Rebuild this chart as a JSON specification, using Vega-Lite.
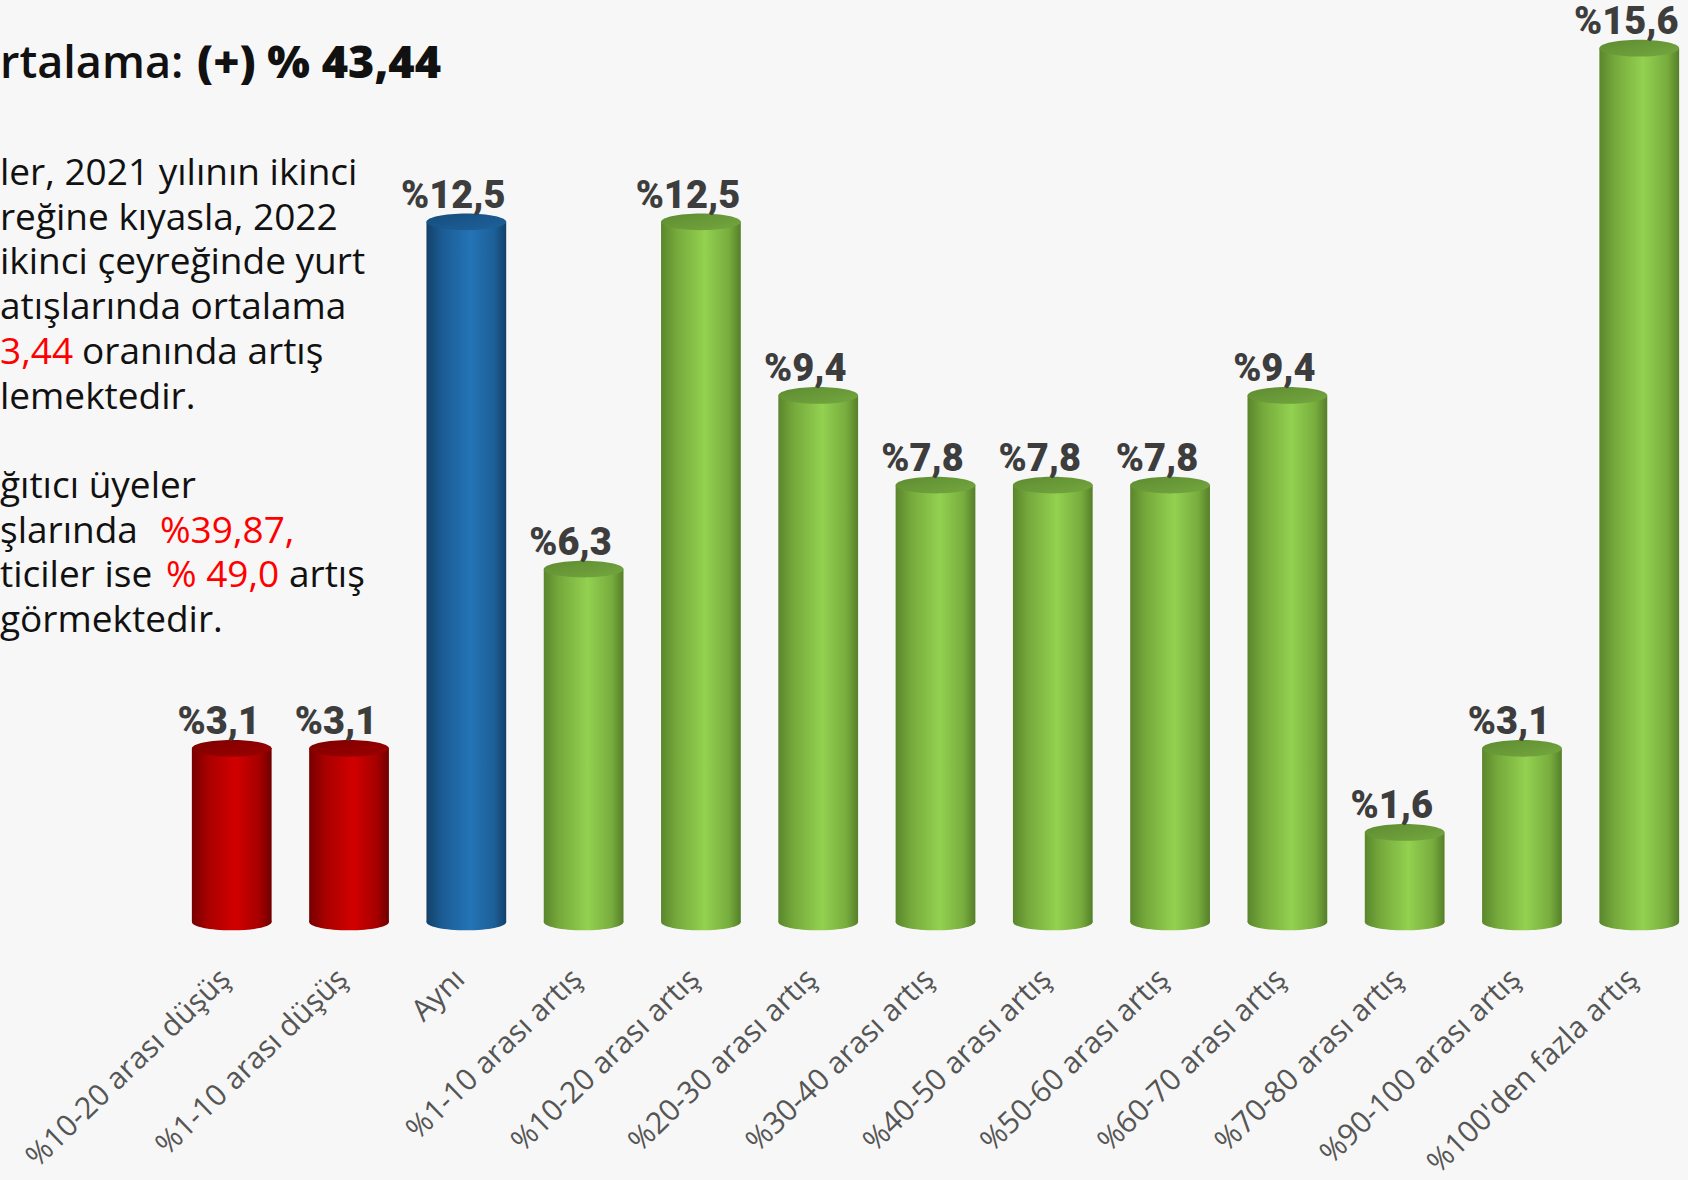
{
  "$schema": "https://vega.github.io/schema/vega-lite/v6.json",
  "autosize": "none",
  "width": 1499,
  "height": 922,
  "padding": {"left": 186, "top": 0, "right": 3, "bottom": 258},
  "background": "#f7f7f7",
  "config": {"view": {"stroke": null}},
  "layer": [
    {
      "data": {
        "values": [
          {"cat": "%10-20 arası düşüş", "v": 3.1, "g": "r"},
          {"cat": "%1-10 arası düşüş", "v": 3.1, "g": "r"},
          {"cat": "Aynı", "v": 12.5, "g": "b"},
          {"cat": "%1-10 arası artış", "v": 6.3, "g": "g"},
          {"cat": "%10-20 arası artış", "v": 12.5, "g": "g"},
          {"cat": "%20-30 arası artış", "v": 9.4, "g": "g"},
          {"cat": "%30-40 arası artış", "v": 7.8, "g": "g"},
          {"cat": "%40-50 arası artış", "v": 7.8, "g": "g"},
          {"cat": "%50-60 arası artış", "v": 7.8, "g": "g"},
          {"cat": "%60-70 arası artış", "v": 9.4, "g": "g"},
          {"cat": "%70-80 arası artış", "v": 1.6, "g": "g"},
          {"cat": "%90-100 arası artış", "v": 3.1, "g": "g"},
          {"cat": "%100'den fazla artış", "v": 15.6, "g": "g"}
        ]
      },
      "transform": [
        {"calculate": "'%' + replace(format(datum.v, '.1f'), '.', ',')", "as": "lbl"}
      ],
      "encoding": {
        "x": {
          "field": "cat",
          "type": "nominal",
          "sort": null,
          "scale": {"paddingInner": 0.32, "paddingOuter": 0.05},
          "axis": {
            "title": null,
            "domain": false,
            "ticks": false,
            "labelAngle": -44,
            "labelAlign": "right",
            "labelBaseline": "middle",
            "labelPadding": 52,
            "labelOffset": -6,
            "labelFontSize": 30,
            "labelFont": "Open Sans",
            "labelColor": "#555555",
            "labelLimit": 600,
            "labelOverlap": false
          }
        }
      },
      "layer": [
        {
          "mark": {
            "type": "point",
            "shape": "M -1 0 C -1 -0.116 -0.552 -0.21 0 -0.21 C 0.552 -0.21 1 -0.116 1 0 C 1 0.116 0.552 0.21 0 0.21 C -0.552 0.21 -1 0.116 -1 0 Z",
            "size": 6360,
            "filled": true,
            "opacity": 1,
            "strokeWidth": 0
          },
          "encoding": {
            "y": {"datum": 0, "type": "quantitative", "scale": {"domain": [0, 16.46]}, "axis": null},
            "color": {
              "condition": [
                {"test": "datum.g === 'r'", "value": {"gradient": "linear", "x1": 0, "x2": 1, "y1": 0, "y2": 0, "stops": [{"offset": 0, "color": "#760000"}, {"offset": 0.2, "color": "#a80000"}, {"offset": 0.55, "color": "#d20000"}, {"offset": 0.85, "color": "#a50000"}, {"offset": 1, "color": "#6e0000"}]}},
                {"test": "datum.g === 'b'", "value": {"gradient": "linear", "x1": 0, "x2": 1, "y1": 0, "y2": 0, "stops": [{"offset": 0, "color": "#13416a"}, {"offset": 0.2, "color": "#1b5c94"}, {"offset": 0.55, "color": "#2474b6"}, {"offset": 0.85, "color": "#1d5f98"}, {"offset": 1, "color": "#134069"}]}}
              ],
              "value": {"gradient": "linear", "x1": 0, "x2": 1, "y1": 0, "y2": 0, "stops": [{"offset": 0, "color": "#5a862c"}, {"offset": 0.2, "color": "#76aa3c"}, {"offset": 0.55, "color": "#93d150"}, {"offset": 0.85, "color": "#78ad3e"}, {"offset": 1, "color": "#557f29"}]}
            }
          }
        },
        {
          "mark": {"type": "bar", "strokeWidth": 0},
          "encoding": {
            "y": {"field": "v", "type": "quantitative", "scale": {"domain": [0, 16.46]}, "axis": null},
            "y2": {"datum": 0},
            "color": {
              "condition": [
                {"test": "datum.g === 'r'", "value": {"gradient": "linear", "x1": 0, "x2": 1, "y1": 0, "y2": 0, "stops": [{"offset": 0, "color": "#760000"}, {"offset": 0.2, "color": "#a80000"}, {"offset": 0.55, "color": "#d20000"}, {"offset": 0.85, "color": "#a50000"}, {"offset": 1, "color": "#6e0000"}]}},
                {"test": "datum.g === 'b'", "value": {"gradient": "linear", "x1": 0, "x2": 1, "y1": 0, "y2": 0, "stops": [{"offset": 0, "color": "#13416a"}, {"offset": 0.2, "color": "#1b5c94"}, {"offset": 0.55, "color": "#2474b6"}, {"offset": 0.85, "color": "#1d5f98"}, {"offset": 1, "color": "#134069"}]}}
              ],
              "value": {"gradient": "linear", "x1": 0, "x2": 1, "y1": 0, "y2": 0, "stops": [{"offset": 0, "color": "#5a862c"}, {"offset": 0.2, "color": "#76aa3c"}, {"offset": 0.55, "color": "#93d150"}, {"offset": 0.85, "color": "#78ad3e"}, {"offset": 1, "color": "#557f29"}]}
            }
          }
        },
        {
          "mark": {
            "type": "point",
            "shape": "M -1 0 C -1 -0.116 -0.552 -0.21 0 -0.21 C 0.552 -0.21 1 -0.116 1 0 C 1 0.116 0.552 0.21 0 0.21 C -0.552 0.21 -1 0.116 -1 0 Z",
            "size": 6360,
            "filled": true,
            "opacity": 1,
            "strokeWidth": 0
          },
          "encoding": {
            "y": {"field": "v", "type": "quantitative", "scale": {"domain": [0, 16.46]}, "axis": null},
            "color": {
              "condition": [
                {"test": "datum.g === 'r'", "value": {"gradient": "linear", "x1": 0, "x2": 1, "y1": 0, "y2": 1, "stops": [{"offset": 0, "color": "#7e0000"}, {"offset": 1, "color": "#9c0000"}]}},
                {"test": "datum.g === 'b'", "value": {"gradient": "linear", "x1": 0, "x2": 1, "y1": 0, "y2": 1, "stops": [{"offset": 0, "color": "#164c7c"}, {"offset": 1, "color": "#1e629c"}]}}
              ],
              "value": {"gradient": "linear", "x1": 0, "x2": 1, "y1": 0, "y2": 1, "stops": [{"offset": 0, "color": "#5e8c31"}, {"offset": 1, "color": "#74a73f"}]}
            }
          }
        },
        {
          "mark": {"type": "text", "baseline": "alphabetic", "dy": -14, "dx": -13, "font": "Roboto", "fontWeight": 900, "fontSize": 38, "color": "#3d3d3d"},
          "encoding": {
            "y": {"field": "v", "type": "quantitative", "scale": {"domain": [0, 16.46]}, "axis": null},
            "text": {"field": "lbl"}
          }
        }
      ]
    },
    {
      "data": {
        "values": [
          {"line": 1, "s": "a", "t": "ler, 2021 yılının ikinci"},
          {"line": 2, "s": "a", "t": "reğine kıyasla, 2022"},
          {"line": 3, "s": "a", "t": "ikinci çeyreğinde yurt"},
          {"line": 4, "s": "a", "t": "atışlarında ortalama"},
          {"line": 5, "s": "r0", "t": "3,44"},
          {"line": 5, "s": "b1", "t": "oranında artış"},
          {"line": 6, "s": "a", "t": "lemektedir."},
          {"line": 8, "s": "a", "t": "ğıtıcı üyeler"},
          {"line": 9, "s": "a", "t": "şlarında"},
          {"line": 9, "s": "r1", "t": "%39,87,"},
          {"line": 10, "s": "a", "t": "ticiler ise"},
          {"line": 10, "s": "r2", "t": "% 49,0"},
          {"line": 10, "s": "b2", "t": "artış"},
          {"line": 11, "s": "a", "t": "görmektedir."}
        ]
      },
      "encoding": {
        "y": {"field": "line", "type": "quantitative", "scale": {"domain": [1, 11], "range": [185, 632]}, "axis": null},
        "text": {"field": "t"}
      },
      "layer": [
        {
          "transform": [{"filter": "datum.s === 'a'"}],
          "mark": {"type": "text", "align": "left", "baseline": "alphabetic", "font": "Open Sans", "fontSize": 37, "color": "#111111"},
          "encoding": {"x": {"value": -186}}
        },
        {
          "transform": [{"filter": "datum.s === 'r0'"}],
          "mark": {"type": "text", "align": "left", "baseline": "alphabetic", "font": "Open Sans", "fontSize": 37, "color": "#ff0000"},
          "encoding": {"x": {"value": -186}}
        },
        {
          "transform": [{"filter": "datum.s === 'b1'"}],
          "mark": {"type": "text", "align": "left", "baseline": "alphabetic", "font": "Open Sans", "fontSize": 37, "color": "#111111"},
          "encoding": {"x": {"value": -104}}
        },
        {
          "transform": [{"filter": "datum.s === 'r1'"}],
          "mark": {"type": "text", "align": "left", "baseline": "alphabetic", "font": "Open Sans", "fontSize": 37, "color": "#ff0000"},
          "encoding": {"x": {"value": -26}}
        },
        {
          "transform": [{"filter": "datum.s === 'r2'"}],
          "mark": {"type": "text", "align": "left", "baseline": "alphabetic", "font": "Open Sans", "fontSize": 37, "color": "#ff0000"},
          "encoding": {"x": {"value": -20}}
        },
        {
          "transform": [{"filter": "datum.s === 'b2'"}],
          "mark": {"type": "text", "align": "left", "baseline": "alphabetic", "font": "Open Sans", "fontSize": 37, "color": "#111111"},
          "encoding": {"x": {"value": 103}}
        }
      ]
    },
    {
      "data": {"values": [{"t": "rtalama:"}]},
      "mark": {"type": "text", "align": "left", "baseline": "alphabetic", "font": "Open Sans", "fontSize": 45, "fontWeight": 600, "color": "#111111"},
      "encoding": {"x": {"value": -186}, "y": {"value": 78}, "text": {"field": "t"}}
    },
    {
      "data": {"values": [{"t": "(+) % 43,44"}]},
      "mark": {"type": "text", "align": "left", "baseline": "alphabetic", "font": "Open Sans", "fontSize": 45, "fontWeight": 800, "color": "#111111"},
      "encoding": {"x": {"value": 11}, "y": {"value": 78}, "text": {"field": "t"}}
    }
  ],
  "resolve": {"scale": {"y": "independent", "x": "independent"}}
}
